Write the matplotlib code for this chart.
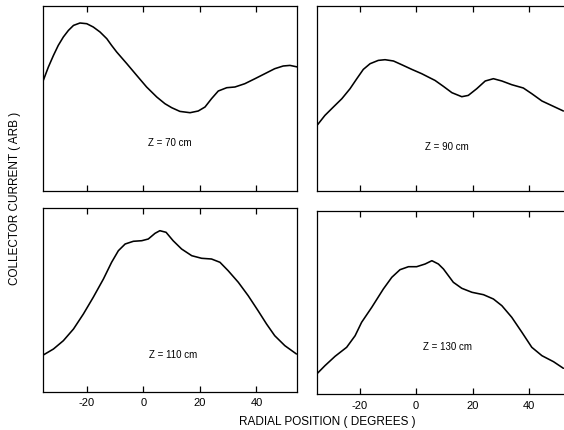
import matplotlib
matplotlib.use("Agg")
import matplotlib.pyplot as plt

plt.rcParams['font.family'] = ['Liberation Sans', 'DejaVu Sans']

# Radial position (degrees) and collector current (arbitrary units)
x70 = [-35.5, -33.7, -31.9, -30.2, -28.4, -26.6, -24.8, -22.5, -20.1, -17.8, -15.4,
       -13.0, -11.3, -9.5, -5.9, -2.4, 1.1, 4.7, 7.6, 10.0, 12.9, 16.5, 19.4, 21.8,
       24.1, 26.5, 29.5, 32.4, 35.9, 39.5, 43.0, 46.5, 49.5, 51.9, 54.6]
y70 = [110.3, 123.7, 135.3, 145.3, 153.7, 160.3, 165.3, 167.7, 167, 163.7, 158.7,
       152, 145.3, 138.7, 127, 115.3, 103.7, 93.7, 87, 83, 79.3, 78, 79.7, 83.7,
       92, 99.7, 103, 103.7, 107, 112, 117, 122, 124.7, 125.3, 123.7]

x90 = [-34.9, -32.3, -29.3, -26.3, -23.4, -21.0, -18.7, -16.3, -13.4, -11.0, -8.0,
       -5.1, -1.5, 2.0, 5.0, 6.7, 9.7, 12.7, 16.2, 18.5, 21.5, 24.5, 27.4, 30.4,
       33.9, 38.0, 41.0, 44.6, 48.7, 52.2]
y90 = [66, 75.3, 83.7, 92, 102, 112, 121.3, 127, 130.3, 131, 129.7,
       126, 121.3, 117, 112.7, 110.3, 104.3, 98, 94, 95.3, 102, 109.7, 112, 109.7,
       106, 102.7, 97, 89.7, 84.3, 79.7]

x110 = [-35.5, -31.9, -28.4, -24.8, -21.3, -17.8, -14.2, -11.3, -8.9, -6.5, -3.6,
        -0.6, 1.7, 4.1, 5.8, 8.0, 10.5, 13.5, 17.1, 20.6, 24.1, 27.1, 30.0, 33.6,
        37.1, 40.6, 43.6, 46.5, 50.1, 54.2]
y110 = [36.7, 42.7, 51, 62.7, 77.7, 94.4, 112.7, 129.4, 141, 147.7, 150.4,
        151, 152.7, 158.4, 161, 159.4, 151, 142.7, 136, 133.4, 132.7, 129.4, 121, 109.4,
        96, 81, 67.7, 56, 46, 37.7]

x130 = [-35.2, -32.3, -28.7, -24.6, -21.6, -19.3, -15.7, -11.6, -8.6, -5.7, -2.7,
        0.2, 3.2, 5.6, 7.9, 9.7, 13.2, 16.2, 19.8, 23.9, 27.4, 30.4, 33.9, 37.5,
        41.0, 44.6, 48.7, 52.2]
y130 = [20, 28.3, 37.7, 46.7, 58.3, 71.7, 86.7, 105, 116.7, 124.3, 127.3,
        127.3, 130, 133.3, 130, 125, 111.7, 105.7, 101.7, 99.3, 95, 88.3, 76.7, 61.7,
        46.7, 38.3, 32.3, 25.7]

labels = ["Z = 70 cm", "Z = 90 cm", "Z = 110 cm", "Z = 130 cm"]
tick_vals = [-20, 0, 20, 40]
tick_labels = ["-20", "0", "20", "40"]

W, H = 564, 431
fig = plt.figure(figsize=(W / 100, H / 100), dpi=100)

def px_axes(left, top, right, bottom):
    return fig.add_axes([left / W, 1 - bottom / H, (right - left) / W, (bottom - top) / H])

panels = [
    (px_axes(43.3, 7.3, 297.3, 191.7), x70, y70, (-35.5, 54.5), 184.4, (9.4, 49), False),
    (px_axes(317.3, 7.3, 571.3, 191.7), x90, y90, (-35.0, 55.0), 184.4, (11.0, 45), False),
    (px_axes(43.3, 209.3, 297.3, 392.7), x110, y110, (-35.5, 54.5), 183.4, (10.4, 37.7), True),
    (px_axes(317.3, 211.7, 571.3, 395.0), x130, y130, (-35.0, 55.0), 183.3, (11.3, 48), True),
]

for (ax, xs, ys, xl, yh, tpos, showlab), lab in zip(panels, labels):
    ax.plot(xs, ys, color='black', lw=1.15, solid_joinstyle='round', solid_capstyle='round')
    ax.set_xlim(*xl)
    ax.set_ylim(0, yh)
    ax.set_yticks([])
    ax.set_xticks(tick_vals)
    ax.tick_params(axis='x', direction='in', top=True, bottom=True, length=4,
                   width=0.9, labelsize=8, pad=4, labelbottom=showlab)
    if showlab:
        ax.set_xticklabels(tick_labels)
    for s in ax.spines.values():
        s.set_linewidth(0.9)
    ax.text(tpos[0], tpos[1], lab, ha='center', va='center', fontsize=7)

fig.text(327 / W, 1 - 422 / H, "RADIAL POSITION ( DEGREES )", ha='center', va='center', fontsize=8.5)
fig.text(15 / W, 1 - 198 / H, "COLLECTOR CURRENT ( ARB )", ha='center', va='center',
         rotation=90, fontsize=8.5)

fig.savefig("out.png", dpi=100)
